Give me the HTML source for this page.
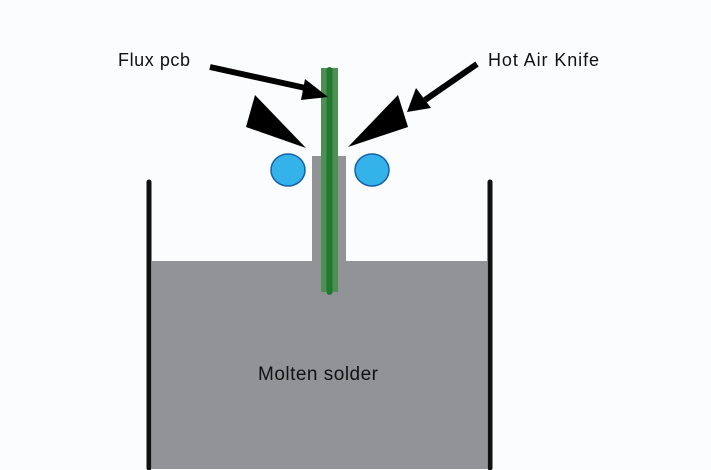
<!DOCTYPE html>
<html><head><style>body{margin:0;background:#fff}svg{display:block}</style></head><body>
<svg width="711" height="470" viewBox="0 0 711 470" xmlns="http://www.w3.org/2000/svg">
<rect width="711" height="470" fill="#fbfcfd"/>
<rect x="152" y="261" width="335" height="208" fill="#929396"/>
<rect x="312" y="156" width="34" height="106" fill="#929396"/>
<line x1="149" y1="182" x2="149" y2="468" stroke="#111" stroke-width="5" stroke-linecap="round"/>
<line x1="490" y1="182" x2="490" y2="468" stroke="#111" stroke-width="5" stroke-linecap="round"/>
<rect x="321" y="68" width="17" height="224" fill="#4f8f55"/>
<line x1="329.5" y1="70" x2="329.5" y2="292" stroke="#1f7a2c" stroke-width="6" stroke-linecap="round"/>
<ellipse cx="288" cy="170" rx="17" ry="16" fill="#33b3ea" stroke="#1560a8" stroke-width="1.5"/>
<ellipse cx="372" cy="170" rx="17" ry="16" fill="#33b3ea" stroke="#1560a8" stroke-width="1.5"/>
<polygon points="306,148 255,95 246,127" fill="#000"/>
<polygon points="348,147 398,95 408,127" fill="#000"/>
<line x1="210" y1="67" x2="310" y2="89" stroke="#000" stroke-width="6"/>
<polygon points="328,97 305,79 301,100" fill="#000"/>
<line x1="477" y1="64" x2="425" y2="100" stroke="#000" stroke-width="6"/>
<polygon points="407,112 416,88 431,108" fill="#000"/>
<g font-family="Liberation Sans, sans-serif" font-size="18" fill="#111">
<text x="118" y="66" textLength="72">Flux pcb</text>
<text x="488" y="66" textLength="111">Hot Air Knife</text>
<text x="258" y="380" font-size="19" textLength="120">Molten solder</text>
</g>
</svg>
</body></html>
